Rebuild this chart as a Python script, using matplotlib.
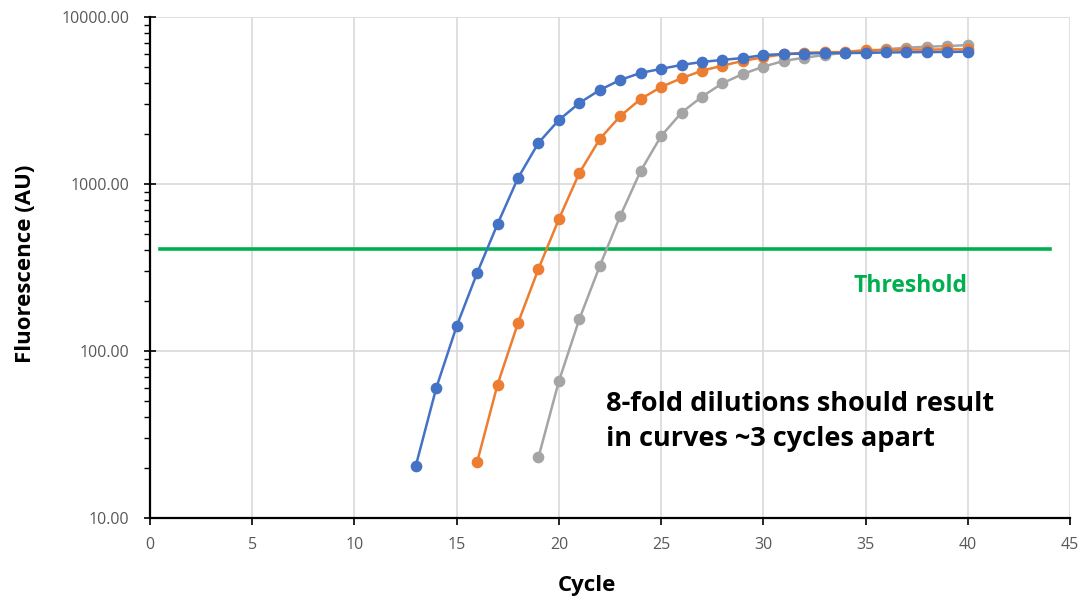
import matplotlib
matplotlib.use("Agg")
import matplotlib.pyplot as plt
from matplotlib.ticker import FixedLocator, FuncFormatter, LogLocator, NullFormatter

cycles_blue = list(range(13, 41))
blue = [20.5, 60, 141, 293, 576, 1086, 1763, 2417, 3053, 3656, 4200, 4625, 4890, 5165,
        5380, 5535, 5680, 5920, 6000, 6040, 6085, 6085, 6100, 6130, 6150, 6170, 6170, 6200]

cycles_orange = list(range(16, 41))
orange = [21.6, 63, 147, 310, 617, 1163, 1860, 2550, 3230, 3810, 4300, 4770, 5110, 5460,
          5740, 5985, 6115, 6150, 6170, 6340, 6340, 6380, 6380, 6400, 6400]

cycles_gray = list(range(19, 41))
gray = [23.1, 66, 155, 323, 643, 1197, 1937, 2675, 3335, 4010, 4560, 5040, 5460, 5705,
        5920, 6110, 6200, 6410, 6550, 6640, 6700, 6790]

threshold = 410
threshold_x = [0.5, 44]

x_ticks = [0, 5, 10, 15, 20, 25, 30, 35, 40, 45]
y_ticks = [10, 100, 1000, 10000]

fig = plt.figure(figsize=(10.9, 6.06), dpi=100)
ax = fig.add_axes([150/1090, 1-518/606, 920/1090, 501/606])

ax.plot(threshold_x, [threshold, threshold], color="#00B050", lw=2.6, zorder=2)
ax.plot(cycles_gray, gray, color="#A5A5A5", lw=1.8, marker="o", ms=7.4, zorder=3)
ax.plot(cycles_orange, orange, color="#ED7D31", lw=1.8, marker="o", ms=7.4, zorder=4)
ax.plot(cycles_blue, blue, color="#4472C4", lw=1.8, marker="o", ms=7.4, zorder=5)

ax.set_yscale("log")
ax.set_xlim(0, 45)
ax.set_ylim(10, 10000)
ax.xaxis.set_major_locator(FixedLocator(x_ticks))
ax.yaxis.set_major_locator(FixedLocator(y_ticks))
ax.yaxis.set_minor_locator(LogLocator(base=10, subs=range(2, 10)))
ax.yaxis.set_minor_formatter(NullFormatter())
ax.yaxis.set_major_formatter(FuncFormatter(lambda v, p: f"{v:.2f}"))

ax.grid(True, which="major", color="#D9D9D9", lw=1.2, zorder=0)
ax.set_axisbelow(True)
for s in ["top", "right"]:
    ax.spines[s].set_visible(False)
for s in ["left", "bottom"]:
    ax.spines[s].set_linewidth(1.6)
    ax.spines[s].set_color("black")

ax.tick_params(axis="x", which="major", direction="out", length=5, width=1.2,
               colors="black", labelcolor="#595959", labelsize=11.5, pad=9)
ax.tick_params(axis="y", which="major", direction="inout", length=8, width=1.2,
               colors="black", labelcolor="#595959", labelsize=11.5, pad=11)
ax.tick_params(axis="y", which="minor", direction="out", length=4, width=1.0, colors="black")

for lab in ax.get_xticklabels() + ax.get_yticklabels():
    lab.set_fontfamily("Open Sans")

fig.text(587/1090, 1-586/606, "Cycle", fontsize=16, fontweight="bold", family="Open Sans",
         ha="center", va="center")
fig.text(26/1090, 1-264/606, "Fluorescence (AU)", fontsize=16, fontweight="bold",
         family="Open Sans", ha="center", va="center", rotation=90)

ax.text(37.2, 245, "Threshold", color="#00B050", fontsize=16.5, fontweight="bold",
        family="Open Sans", ha="center", va="center")
ax.text(22.3, 38, "8-fold dilutions should result\nin curves ~3 cycles apart", color="black",
        fontsize=19.5, fontweight="bold", family="Open Sans", ha="left", va="center",
        linespacing=1.45)

fig.savefig("out.png", dpi=100)
